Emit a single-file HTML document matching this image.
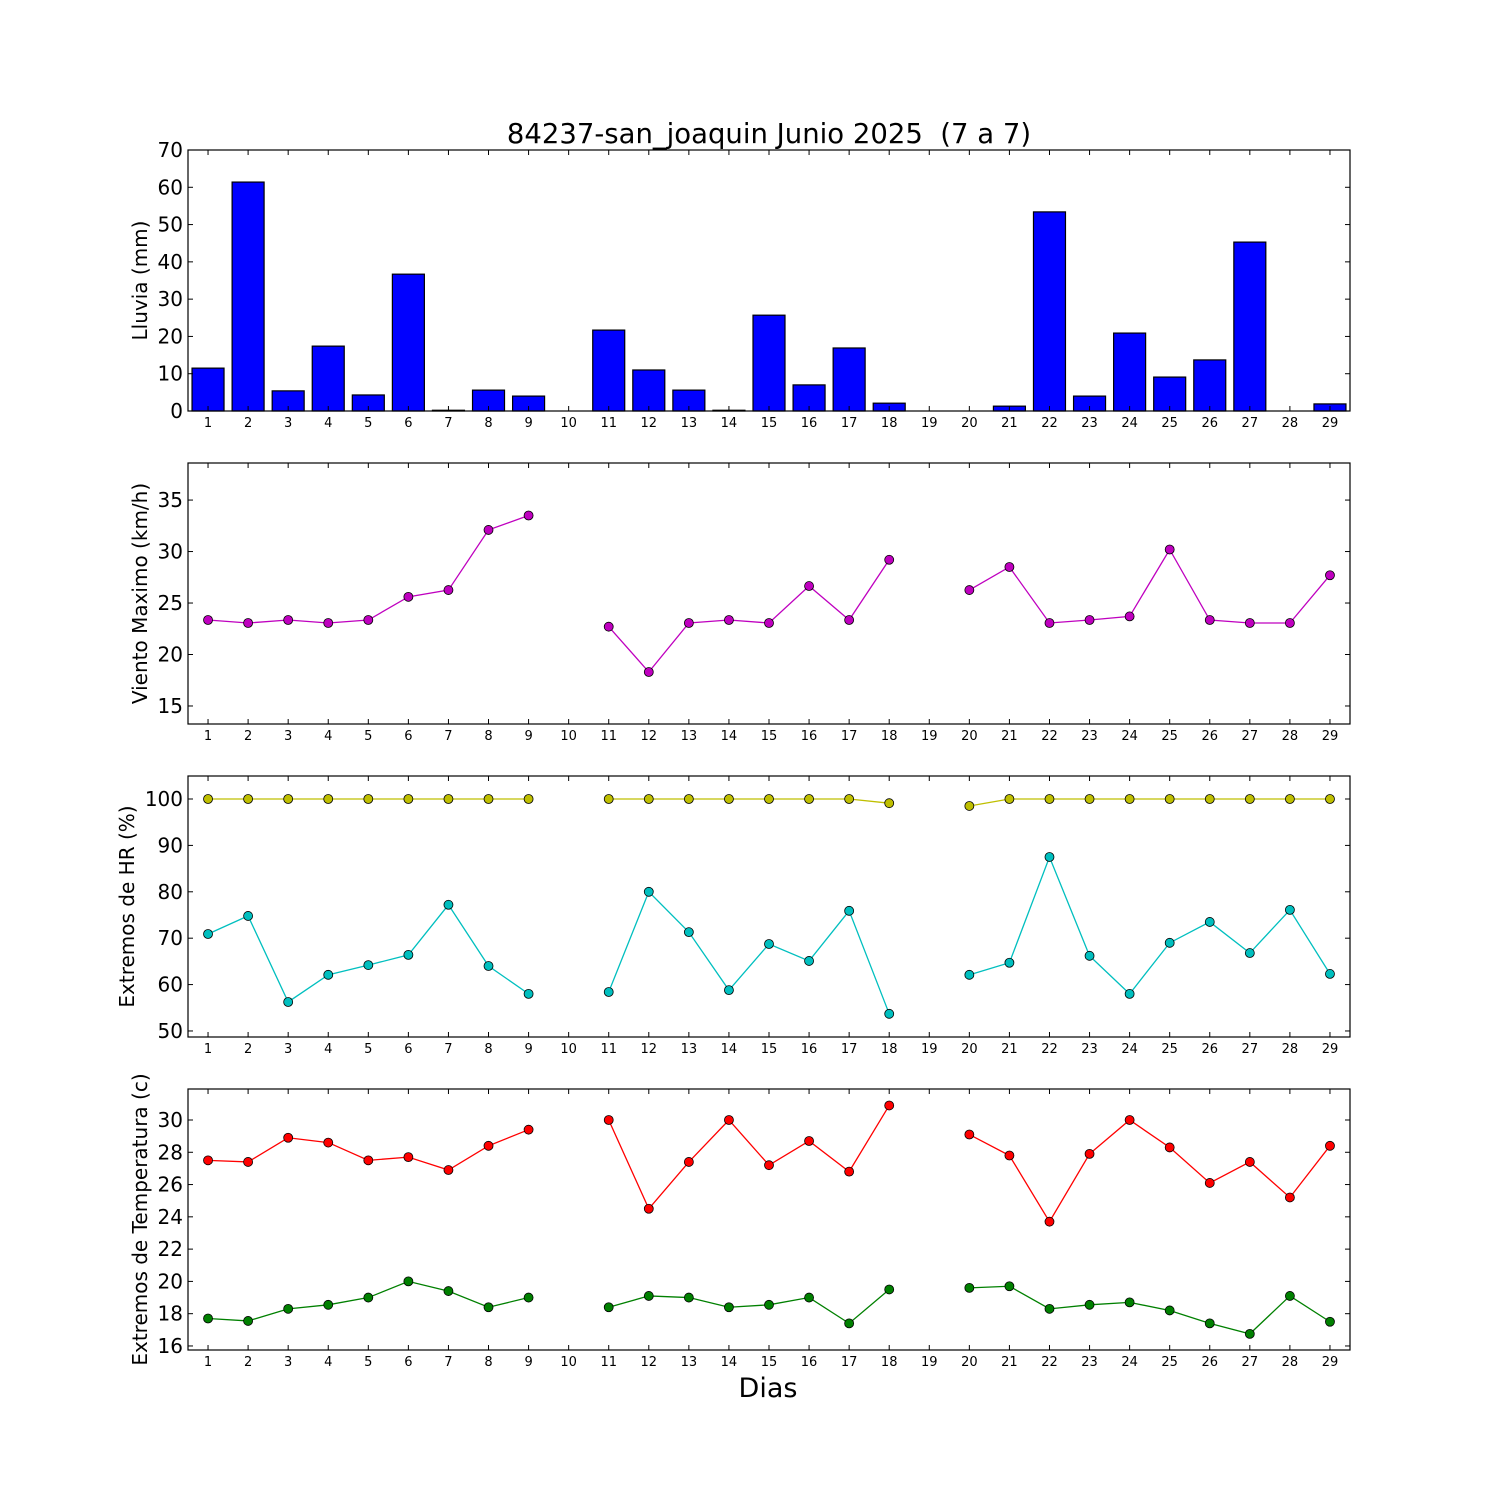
<!DOCTYPE html>
<html><head><meta charset="utf-8"><style>body{margin:0;background:#fff}svg{display:block}text{font-family:"DejaVu Sans","Liberation Sans",sans-serif}</style></head>
<body>
<svg id="c" width="1500" height="1500" xmlns="http://www.w3.org/2000/svg"></svg>
<script>
const days=[1,2,3,4,5,6,7,8,9,10,11,12,13,14,15,16,17,18,19,20,21,22,23,24,25,26,27,28,29];
const rain=[11.5,61.4,5.4,17.4,4.3,36.7,0.2,5.6,4,0,21.7,11,5.6,0.2,25.7,7,16.9,2.1,0,0,1.3,53.4,4,20.9,9.1,13.7,45.3,0,1.9];
const wind=[23.35,23.06,23.35,23.06,23.35,25.6,26.26,32.1,33.5,null,22.7,18.3,23.06,23.35,23.06,26.65,23.35,29.2,null,26.26,28.5,23.06,23.35,23.7,30.2,23.35,23.06,23.06,27.7];
const hrMax=[100,100,100,100,100,100,100,100,100,null,100,100,100,100,100,100,100,99.1,null,98.5,100,100,100,100,100,100,100,100,100];
const hrMin=[70.9,74.8,56.25,62.1,64.2,66.4,77.2,64,58,null,58.4,80,71.3,58.8,68.75,65.1,75.9,53.7,null,62.1,64.7,87.5,66.2,58,69,73.5,66.8,76.1,62.3];
const tMax=[27.5,27.4,28.9,28.6,27.5,27.7,26.9,28.4,29.4,null,30,24.5,27.4,30,27.2,28.7,26.8,30.9,null,29.1,27.8,23.7,27.9,30,28.3,26.1,27.4,25.2,28.4];
const tMin=[17.7,17.55,18.3,18.55,19,20,19.4,18.4,19,null,18.4,19.1,19,18.4,18.55,19,17.4,19.5,null,19.6,19.7,18.3,18.55,18.7,18.2,17.4,16.75,19.1,17.5];
const ticks1=[0,10,20,30,40,50,60,70],ticks2=[15,20,25,30,35],ticks3=[50,60,70,80,90,100],ticks4=[16,18,20,22,24,26,28,30];
const NS="http://www.w3.org/2000/svg",svg=document.getElementById('c');
function mk(t,a,p){const e=document.createElementNS(NS,t);for(const k in a)e.setAttribute(k,a[k]);(p||svg).appendChild(e);return e;}
const L=188,R=1350;
const X=d=>L+(d-0.5)*(R-L)/29;
function panel(name,top,bot,ymin,ymax,ticks,label,lx){
  const g=mk('g',{});
  
  
  const Y=v=>bot-(v-ymin)/(ymax-ymin)*(bot-top);
  return {g,Y,top,bot,ticks,label,name,lx};
}
function frame(p){
  const {g,Y,top,bot,ticks,label,name,lx}=p;
  const ax=mk('g',{},g);
  
  
  days.forEach(d=>{const x=X(d);
    mk('line',{x1:x,x2:x,y1:bot,y2:bot-5,stroke:'#000'},ax);
    mk('line',{x1:x,x2:x,y1:top,y2:top+5,stroke:'#000'},ax);
    const t=mk('text',{x:x,y:bot+16,'font-size':13,'text-anchor':'middle'},ax);t.textContent=d;
    
    
  });
  ticks.forEach(v=>{const y=Y(v);
    mk('line',{x1:L,x2:L+5,y1:y,y2:y,stroke:'#000'},ax);
    mk('line',{x1:R,x2:R-5,y1:y,y2:y,stroke:'#000'},ax);
    const t=mk('text',{x:L-5,y:y+7,'font-size':20,'text-anchor':'end'},ax);t.textContent=v;
    
    
  });
  mk('rect',{x:L,y:top,width:R-L,height:bot-top,fill:'none',stroke:'#000','stroke-width':1.2},ax);
  const cy=(top+bot)/2;
  const t=mk('text',{x:lx,y:cy,'font-size':20,'text-anchor':'middle',transform:`rotate(-90 ${lx} ${cy})`},ax);t.textContent=label;
  
  
}
function series(p,vals,color,nm){
  const {g,Y}=p;let segs=[],cur=[];
  vals.forEach((v,i)=>{if(v===null){if(cur.length)segs.push(cur);cur=[];}else cur.push([X(days[i]),Y(v)]);});
  if(cur.length)segs.push(cur);
  segs.forEach(s=>{const l=mk('polyline',{points:s.map(q=>q.join(',')).join(' '),fill:'none',stroke:color,'stroke-width':1.3},g);
    
    });
  vals.forEach((v,i)=>{if(v===null)return;const c=mk('circle',{cx:X(days[i]),cy:Y(v),r:4.5,fill:color,stroke:'#000','stroke-width':0.8},g);
    
    });
}
const p1=panel('rain',150,411,0,70,ticks1,'Lluvia (mm)',147);
rain.forEach((v,i)=>{const x=X(days[i]),y=p1.Y(v);
  const r=mk('rect',{x:x-16,y:y,width:32,height:p1.bot-y,fill:'#0000ff',stroke:'#000','stroke-width':1.2},p1.g);
  
  });
frame(p1);
const p2=panel('wind',463,724,13.25,38.6,ticks2,'Viento Maximo (km/h)',147);
series(p2,wind,'#bf00bf','wind');frame(p2);
const p3=panel('humidity',776,1037,48.7,104.96,ticks3,'Extremos de HR (%)',134);
series(p3,hrMax,'#bfbf00','hr-max');series(p3,hrMin,'#00bfbf','hr-min');frame(p3);
const p4=panel('temperature',1089,1350,15.75,31.92,ticks4,'Extremos de Temperatura (c)',147);
series(p4,tMax,'#ff0000','temp-max');series(p4,tMin,'#008000','temp-min');frame(p4);
const ti=mk('text',{x:769,y:143,'font-size':27.5,'text-anchor':'middle'});ti.textContent='84237-san_joaquin Junio 2025  (7 a 7)';


ti.style.whiteSpace='pre';
const xl=mk('text',{x:768,y:1397,'font-size':27,'text-anchor':'middle'});xl.textContent='Dias';


</script>
</body></html>
